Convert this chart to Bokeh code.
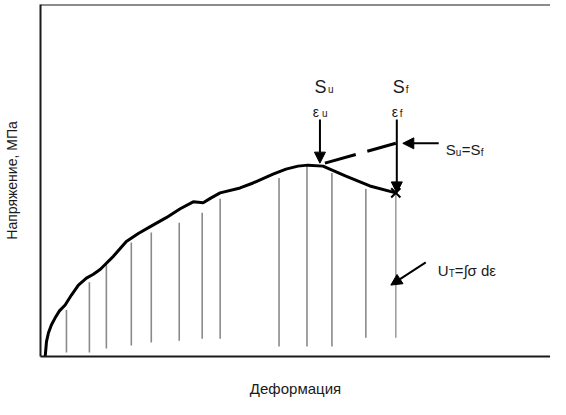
from bokeh.plotting import figure
from bokeh.models import Range1d, LinearAxis, FixedTicker, Arrow, NormalHead, Label, Span
from bokeh.embed import file_html
from bokeh.resources import INLINE

# ---- data: engineering stress-strain curve (strain %, stress MPa) ----
strain = [0.235, 0.30, 0.40, 0.55, 0.735, 0.95, 1.235, 1.55, 1.9, 2.3, 2.65, 3.0, 3.3,
          3.65, 4.3, 4.9, 5.5, 6.3, 7.0, 7.65, 8.15, 8.55, 9.0, 10.0, 10.65, 11.65,
          12.3, 12.9, 13.4, 14.15, 15.3, 16.5, 17.8]
stress = [0, 30, 48, 64, 78, 92, 104, 124, 144, 158, 166, 176, 188,
          202, 232, 248, 262, 280, 298, 312, 310, 320, 330, 340, 350, 368,
          378, 384, 386, 384, 364, 344, 330]

# hatch lines under the curve (area = toughness)
hatch_x = [1.3, 2.45, 3.3, 4.55, 5.55, 6.95, 8.1, 9.0, 11.95, 13.35, 14.6, 16.3]
hatch_top = [94, 150, 186, 230, 250, 270, 290, 318, 360, 384, 370, 338]
hatch_bottom = [8, 8, 16, 22, 28, 32, 36, 36, 20, 20, 20, 38]

# characteristic points
eps_u, sig_u = 14.0, 390      # ultimate
eps_f, sig_f = 17.8, 330      # fracture
fracture_line_bottom = 38
arrow_top = 478
dash_level = 430

x_label = "Деформация"
y_label = "Напряжение, МПа"

FONT = "Liberation Sans"
INK = "#1a1a1a"

p = figure(width=550, height=399, x_range=Range1d(0, 25.55), y_range=Range1d(0, 710),
           output_backend="svg", toolbar_location=None,
           x_axis_location=None, y_axis_location=None,
           min_border_left=39, min_border_right=0, min_border_top=4, min_border_bottom=40)
p.grid.grid_line_color = None
p.outline_line_color = None
p.background_fill_color = "white"


def make_axis(label, standoff, size):
    return LinearAxis(ticker=FixedTicker(ticks=[]), axis_label=label,
                      axis_line_width=2, axis_line_color=INK,
                      major_tick_out=0, major_tick_in=0, minor_tick_out=0, minor_tick_in=0,
                      major_label_standoff=0, axis_label_standoff=standoff,
                      axis_label_text_font=FONT, axis_label_text_font_size=size,
                      axis_label_text_font_style="normal", axis_label_text_color=INK)


p.add_layout(make_axis(y_label, 21, "14px"), "left")
p.add_layout(make_axis(x_label, 23, "15px"), "below")
p.add_layout(Span(location=710, dimension="width", line_width=2, line_color=INK))

# hatching
p.segment(x0=hatch_x, y0=hatch_bottom, x1=hatch_x, y1=hatch_top,
          line_color="#8a8a8a", line_width=1.6)
# faint line below the fracture point
p.segment(x0=[eps_f], y0=[fracture_line_bottom], x1=[eps_f], y1=[sig_f],
          line_color="#a0a0a0", line_width=1.6)

# curve
p.line(strain, stress, line_color="black", line_width=3)

# fracture mark
p.scatter([eps_f], [sig_f], marker="x", size=13, line_width=2, line_color="black")

# dashed line Su = Sf
p.line([eps_u + 0.25, eps_f], [sig_u, dash_level], line_color="black", line_width=3,
       line_dash="32 12")


def arrow(x0, y0, x1, y1):
    p.add_layout(Arrow(end=NormalHead(size=11, fill_color="black", line_color="black"),
                       x_start=x0, y_start=y0, x_end=x1, y_end=y1,
                       line_width=2, line_color="black"))


arrow(eps_u, arrow_top, eps_u, sig_u)
arrow(eps_f + 0.05, arrow_top, eps_f + 0.05, sig_f)
arrow(19.95, dash_level, 18.15, dash_level)
arrow(19.3, 190, 17.55, 144)


def lab(text, x, y, size, dx=0, dy=0, align="left", style="normal"):
    p.add_layout(Label(x=x, y=y, x_offset=dx, y_offset=dy, text=text,
                       text_font=FONT, text_font_size=size, text_color=INK,
                       text_align=align, text_baseline="alphabetic",
                       text_font_style=style))


# S_u, eps_u
lab("S", eps_u, 544, "18px", dx=0.5, align="center")
lab("u", eps_u, 544, "10px", dx=8, dy=-3)
lab("ε", eps_u, 544, "14px", dx=-4, dy=-25, align="center")
lab("u", eps_u, 544, "10px", dx=2, dy=-27)
# S_f, eps_f
lab("S", eps_f, 544, "18px", dx=3, align="center")
lab("f", eps_f, 544, "10px", dx=10, dy=-3)
lab("ε", eps_f, 544, "14px", dx=-1, dy=-25, align="center")
lab("f", eps_f, 544, "10px", dx=4, dy=-27)
# Su = Sf
lab("S", 20.3, 418, "15px")
lab("u", 20.3, 418, "10px", dx=10, dy=-3)
lab("=S", 20.3, 418, "15px", dx=16)
lab("f", 20.3, 418, "10px", dx=35, dy=-3)
# U_T = ∫σ dε
lab("U", 19.9, 174, "15px")
lab("T", 19.9, 174, "10px", dx=11, dy=-3)
lab("=∫σ dε", 19.9, 174, "15px", dx=17)

open("out.html", "w").write(file_html(p, INLINE))
